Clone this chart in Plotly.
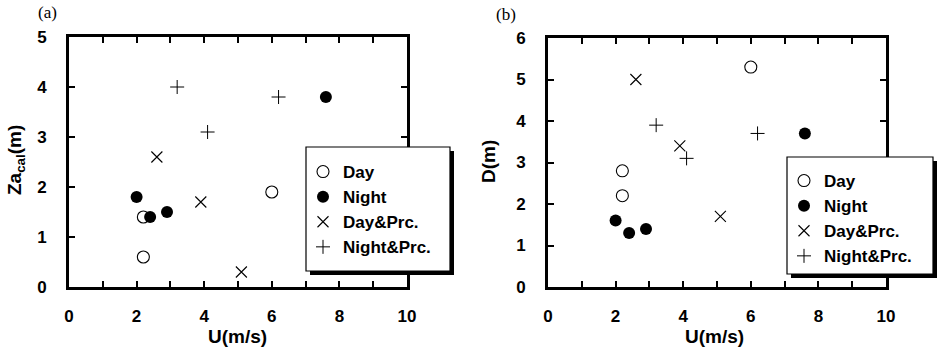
import plotly.graph_objects as go

# ---------------- data ----------------
U_day = [2.2, 2.2, 6.0]
Za_day = [1.4, 0.6, 1.9]
D_day = [2.8, 2.2, 5.3]

U_night = [2.0, 2.4, 2.9, 7.6]
Za_night = [1.8, 1.4, 1.5, 3.8]
D_night = [1.6, 1.3, 1.4, 3.7]

U_dayprc = [2.6, 3.9, 5.1]
Za_dayprc = [2.6, 1.7, 0.3]
D_dayprc = [5.0, 3.4, 1.7]

U_nightprc = [3.2, 4.1, 6.2]
Za_nightprc = [4.0, 3.1, 3.8]
D_nightprc = [3.9, 3.1, 3.7]

x_tickvals = [0, 2, 4, 6, 8, 10]
x_ticktext = ["0", "2", "4", "6", "8", "10"]
y1_tickvals = [0, 1, 2, 3, 4, 5]
y2_tickvals = [0, 1, 2, 3, 4, 5, 6]

# ---------------- layout helpers ----------------
W, H = 940, 353
def px(x):
    return x / W
def py(y):
    return 1 - y / H

SANS = "Liberation Sans, Arial, Helvetica, sans-serif"
SERIF = "Liberation Serif, Times New Roman, serif"

def bold(labels):
    return ["<b>%s</b>" % str(t) for t in labels]

series = [
    ("Day", U_day, Za_day, D_day, dict(symbol="circle-open", size=12, color="black", line=dict(width=1.1, color="black"))),
    ("Night", U_night, Za_night, D_night, dict(symbol="circle", size=12, color="black", line=dict(width=0))),
    ("Day&Prc.", U_dayprc, Za_dayprc, D_dayprc, dict(symbol="x-thin-open", size=11, color="black", line=dict(width=1.1, color="black"))),
    ("Night&Prc.", U_nightprc, Za_nightprc, D_nightprc, dict(symbol="cross-thin-open", size=10, color="black", line=dict(width=1, color="black"))),
]

fig = go.Figure()
for name, u, za, d, mk in series:
    fig.add_trace(go.Scatter(x=u, y=za, mode="markers", name=name, marker=mk,
                             xaxis="x", yaxis="y", legend="legend"))
for name, u, za, d, mk in series:
    fig.add_trace(go.Scatter(x=u, y=d, mode="markers", name=name, marker=mk,
                             xaxis="x2", yaxis="y2", legend="legend2"))

tickfont = dict(family=SANS, size=17, color="black", weight="bold")
axis_common = dict(showline=True, linewidth=3, linecolor="black", mirror="ticks",
                   ticks="inside", ticklen=6, tickwidth=2, tickcolor="black",
                   showgrid=False, zeroline=False, tickfont=tickfont, automargin=False)
xminor = dict(dtick=1, ticks="inside", ticklen=6, tickwidth=2, tickcolor="black", showgrid=False)

fig.update_layout(
    width=W, height=H,
    margin=dict(l=0, r=0, t=0, b=0),
    paper_bgcolor="white", plot_bgcolor="white",
    xaxis=dict(domain=[px(69), px(407)], range=[0, 10], tickmode="array",
               tickvals=x_tickvals, ticktext=bold(x_ticktext), anchor="y",
               ticklabelstandoff=12, minor=xminor, **axis_common),
    yaxis=dict(domain=[py(287), py(37)], range=[0, 5], tickmode="array",
               tickvals=y1_tickvals, ticktext=bold(y1_tickvals), anchor="x",
               ticklabelstandoff=16, **axis_common),
    xaxis2=dict(domain=[px(548), px(886)], range=[0, 10], tickmode="array",
                tickvals=x_tickvals, ticktext=bold(x_ticktext), anchor="y2",
                ticklabelstandoff=12, minor=xminor, **axis_common),
    yaxis2=dict(domain=[py(287), py(38)], range=[0, 6], tickmode="array",
                tickvals=y2_tickvals, ticktext=bold(y2_tickvals), anchor="x2",
                ticklabelstandoff=16, **axis_common),
    showlegend=True,
    legend=dict(x=px(303), y=py(154), xanchor="left", yanchor="top",
                bgcolor="rgba(0,0,0,0)", borderwidth=0,
                font=dict(family=SANS, size=17, color="black", weight="bold"),
                itemsizing="trace"),
    legend2=dict(x=px(784), y=py(163), xanchor="left", yanchor="top",
                 bgcolor="rgba(0,0,0,0)", borderwidth=0,
                 font=dict(family=SANS, size=17, color="black", weight="bold"),
                 itemsizing="trace"),
)

# legend boxes with drop shadow
shapes = []
for (x0, y0, x1, y1) in [(306, 147, 450, 271), (787, 157, 933, 274)]:
    shapes.append(dict(type="rect", xref="paper", yref="paper", layer="above",
                       x0=px(x0 + 4), x1=px(x1 + 4), y0=py(y1 + 4), y1=py(y0 + 4),
                       fillcolor="black", line=dict(width=0)))
    shapes.append(dict(type="rect", xref="paper", yref="paper", layer="above",
                       x0=px(x0), x1=px(x1), y0=py(y1), y1=py(y0),
                       fillcolor="white", line=dict(width=1.2, color="black")))
fig.update_layout(shapes=shapes)

title_font = dict(family=SANS, size=19, color="black", weight="bold")
annotations = [
    dict(text="U(m/s)", x=px(238), y=py(336), xref="paper", yref="paper",
         showarrow=False, font=title_font, xanchor="center", yanchor="middle"),
    dict(text="U(m/s)", x=px(714), y=py(336), xref="paper", yref="paper",
         showarrow=False, font=title_font, xanchor="center", yanchor="middle"),
    dict(text="Za<sub>cal</sub>(m)", x=px(16), y=py(160), xref="paper", yref="paper",
         showarrow=False, font=title_font, textangle=-90, xanchor="center", yanchor="middle"),
    dict(text="D(m)", x=px(488), y=py(162), xref="paper", yref="paper",
         showarrow=False, font=title_font, textangle=-90, xanchor="center", yanchor="middle"),
    dict(text="(a)", x=px(47), y=py(13), xref="paper", yref="paper",
         showarrow=False, font=dict(family=SERIF, size=17, color="black"),
         xanchor="center", yanchor="middle"),
    dict(text="(b)", x=px(506), y=py(14), xref="paper", yref="paper",
         showarrow=False, font=dict(family=SERIF, size=17, color="black"),
         xanchor="center", yanchor="middle"),
]
fig.update_layout(annotations=annotations)

fig.write_html("out.html")
